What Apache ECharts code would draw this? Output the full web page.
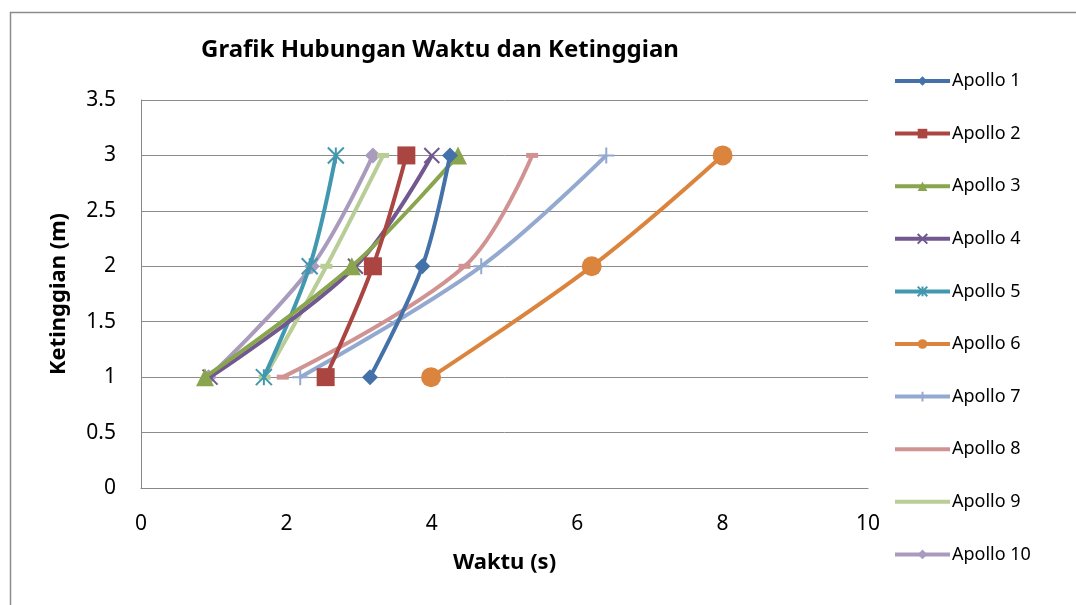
<!DOCTYPE html>
<html>
<head>
<meta charset="utf-8">
<script src="https://cdn.jsdelivr.net/npm/echarts@6/dist/echarts.min.js"></script>
<style>html,body{margin:0;padding:0;background:#fff;}#c{width:1076px;height:605px;}</style>
</head>
<body>
<div id="c"></div>
<script>
const heights = [1, 2, 3];
const seriesNames = ['Apollo 1','Apollo 2','Apollo 3','Apollo 4','Apollo 5','Apollo 6','Apollo 7','Apollo 8','Apollo 9','Apollo 10'];
const apollo1 = [3.15, 3.87, 4.25];
const apollo2 = [2.54, 3.19, 3.65];
const apollo3 = [0.88, 2.9, 4.36];
const apollo4 = [0.95, 2.95, 4.0];
const apollo5 = [1.69, 2.32, 2.68];
const apollo6 = [3.99, 6.2, 8.0];
const apollo7 = [2.19, 4.68, 6.4];
const apollo8 = [1.95, 4.45, 5.38];
const apollo9 = [1.7, 2.55, 3.33];
const apollo10 = [0.93, 2.35, 3.19];
const xTicks = [0, 2, 4, 6, 8, 10];
const yTicks = [0, 0.5, 1, 1.5, 2, 2.5, 3, 3.5];

const allTimes = [apollo1, apollo2, apollo3, apollo4, apollo5, apollo6, apollo7, apollo8, apollo9, apollo10];
const colors = ['#4471A8','#AB4542','#89A54E','#71588F','#4198AF','#DB843D','#93A9CF','#D19392','#B9CD96','#A99BBD'];
const crossPath = 'path://M0,0L10,10M10,0L0,10';
const starPath = 'path://M0,0L10,10M10,0L0,10M5,0L5,10';
const plusPath = 'path://M5,0L5,10M0,5L10,5';
const symbols = [
  {s:'diamond', z:16}, {s:'rect', z:18}, {s:'triangle', z:18}, {s:crossPath, z:15, stroke:true},
  {s:starPath, z:16, stroke:true}, {s:'circle', z:20}, {s:plusPath, z:16, stroke:true},
  {s:'rect', z:[12,5], noLegend:true}, {s:'rect', z:[12,5], noLegend:true}, {s:'diamond', z:16}
];

const series = seriesNames.map((name, i) => ({
  name: name,
  type: 'line',
  smooth: 0.35,
  data: allTimes[i].map((t, k) => [t, heights[k]]),
  symbol: symbols[i].s,
  symbolSize: symbols[i].z,
  showAllSymbol: true,
  lineStyle: { color: colors[i], width: 4 },
  itemStyle: symbols[i].stroke ? { color: colors[i], borderColor: colors[i], borderWidth: 2 } : { color: colors[i], borderWidth: 0 },
  emphasis: { disabled: true },
  animation: false,
  z: 10 - i
}));

const legendData = seriesNames.map((name, i) => symbols[i].noLegend
  ? { name: name, itemStyle: { opacity: 0 } }
  : { name: name });

const chart = echarts.init(document.getElementById('c'), null, { renderer: 'canvas' });
chart.setOption({
  animation: false,
  backgroundColor: '#fff',
  graphic: [{
    type: 'rect', left: 8, top: 10, shape: { width: 1100, height: 640 },
    style: { fill: 'none', stroke: '#8c8c8c', lineWidth: 1.5 }, silent: true
  }],
  title: {
    text: 'Grafik Hubungan Waktu dan Ketinggian',
    left: 435, top: 33, textAlign: 'center',
    textStyle: { fontFamily: 'Noto Sans', fontWeight: 'bold', fontSize: 24, color: '#000' }
  },
  legend: {
    orient: 'vertical', left: 893, top: 72, itemGap: 34.6, padding: 0,
    itemWidth: 55, itemHeight: 12,
    lineStyle: { width: 4 },
    textStyle: { fontFamily: 'Noto Sans', fontSize: 18, color: '#000', padding: [0,0,0,-3] },
    data: legendData
  },
  grid: { left: 141, right: 208, top: 100, bottom: 117, containLabel: false },
  xAxis: {
    type: 'value', min: xTicks[0], max: xTicks[xTicks.length-1], interval: 2,
    name: 'Waktu (s)', nameLocation: 'middle', nameGap: 64,
    nameTextStyle: { fontFamily: 'Noto Sans', fontWeight: 'bold', fontSize: 22, color: '#000' },
    axisLine: { show: true, lineStyle: { color: '#888', width: 1 } },
    axisTick: { show: false },
    axisLabel: { fontFamily: 'Noto Sans', fontSize: 21, color: '#000', margin: 26 },
    splitLine: { show: false }
  },
  yAxis: {
    type: 'value', min: yTicks[0], max: yTicks[yTicks.length-1], interval: 0.5,
    name: 'Ketinggian (m)', nameLocation: 'middle', nameGap: 71, nameRotate: 90,
    nameTextStyle: { fontFamily: 'Noto Sans', fontWeight: 'bold', fontSize: 22, color: '#000' },
    axisLine: { show: true, lineStyle: { color: '#888', width: 1 } },
    axisTick: { show: false },
    axisLabel: { fontFamily: 'Noto Sans', fontSize: 21, color: '#000', margin: 25 },
    splitLine: { show: true, lineStyle: { color: '#8c8c8c', width: 1 } }
  },
  series: series
});
</script>
</body>
</html>
